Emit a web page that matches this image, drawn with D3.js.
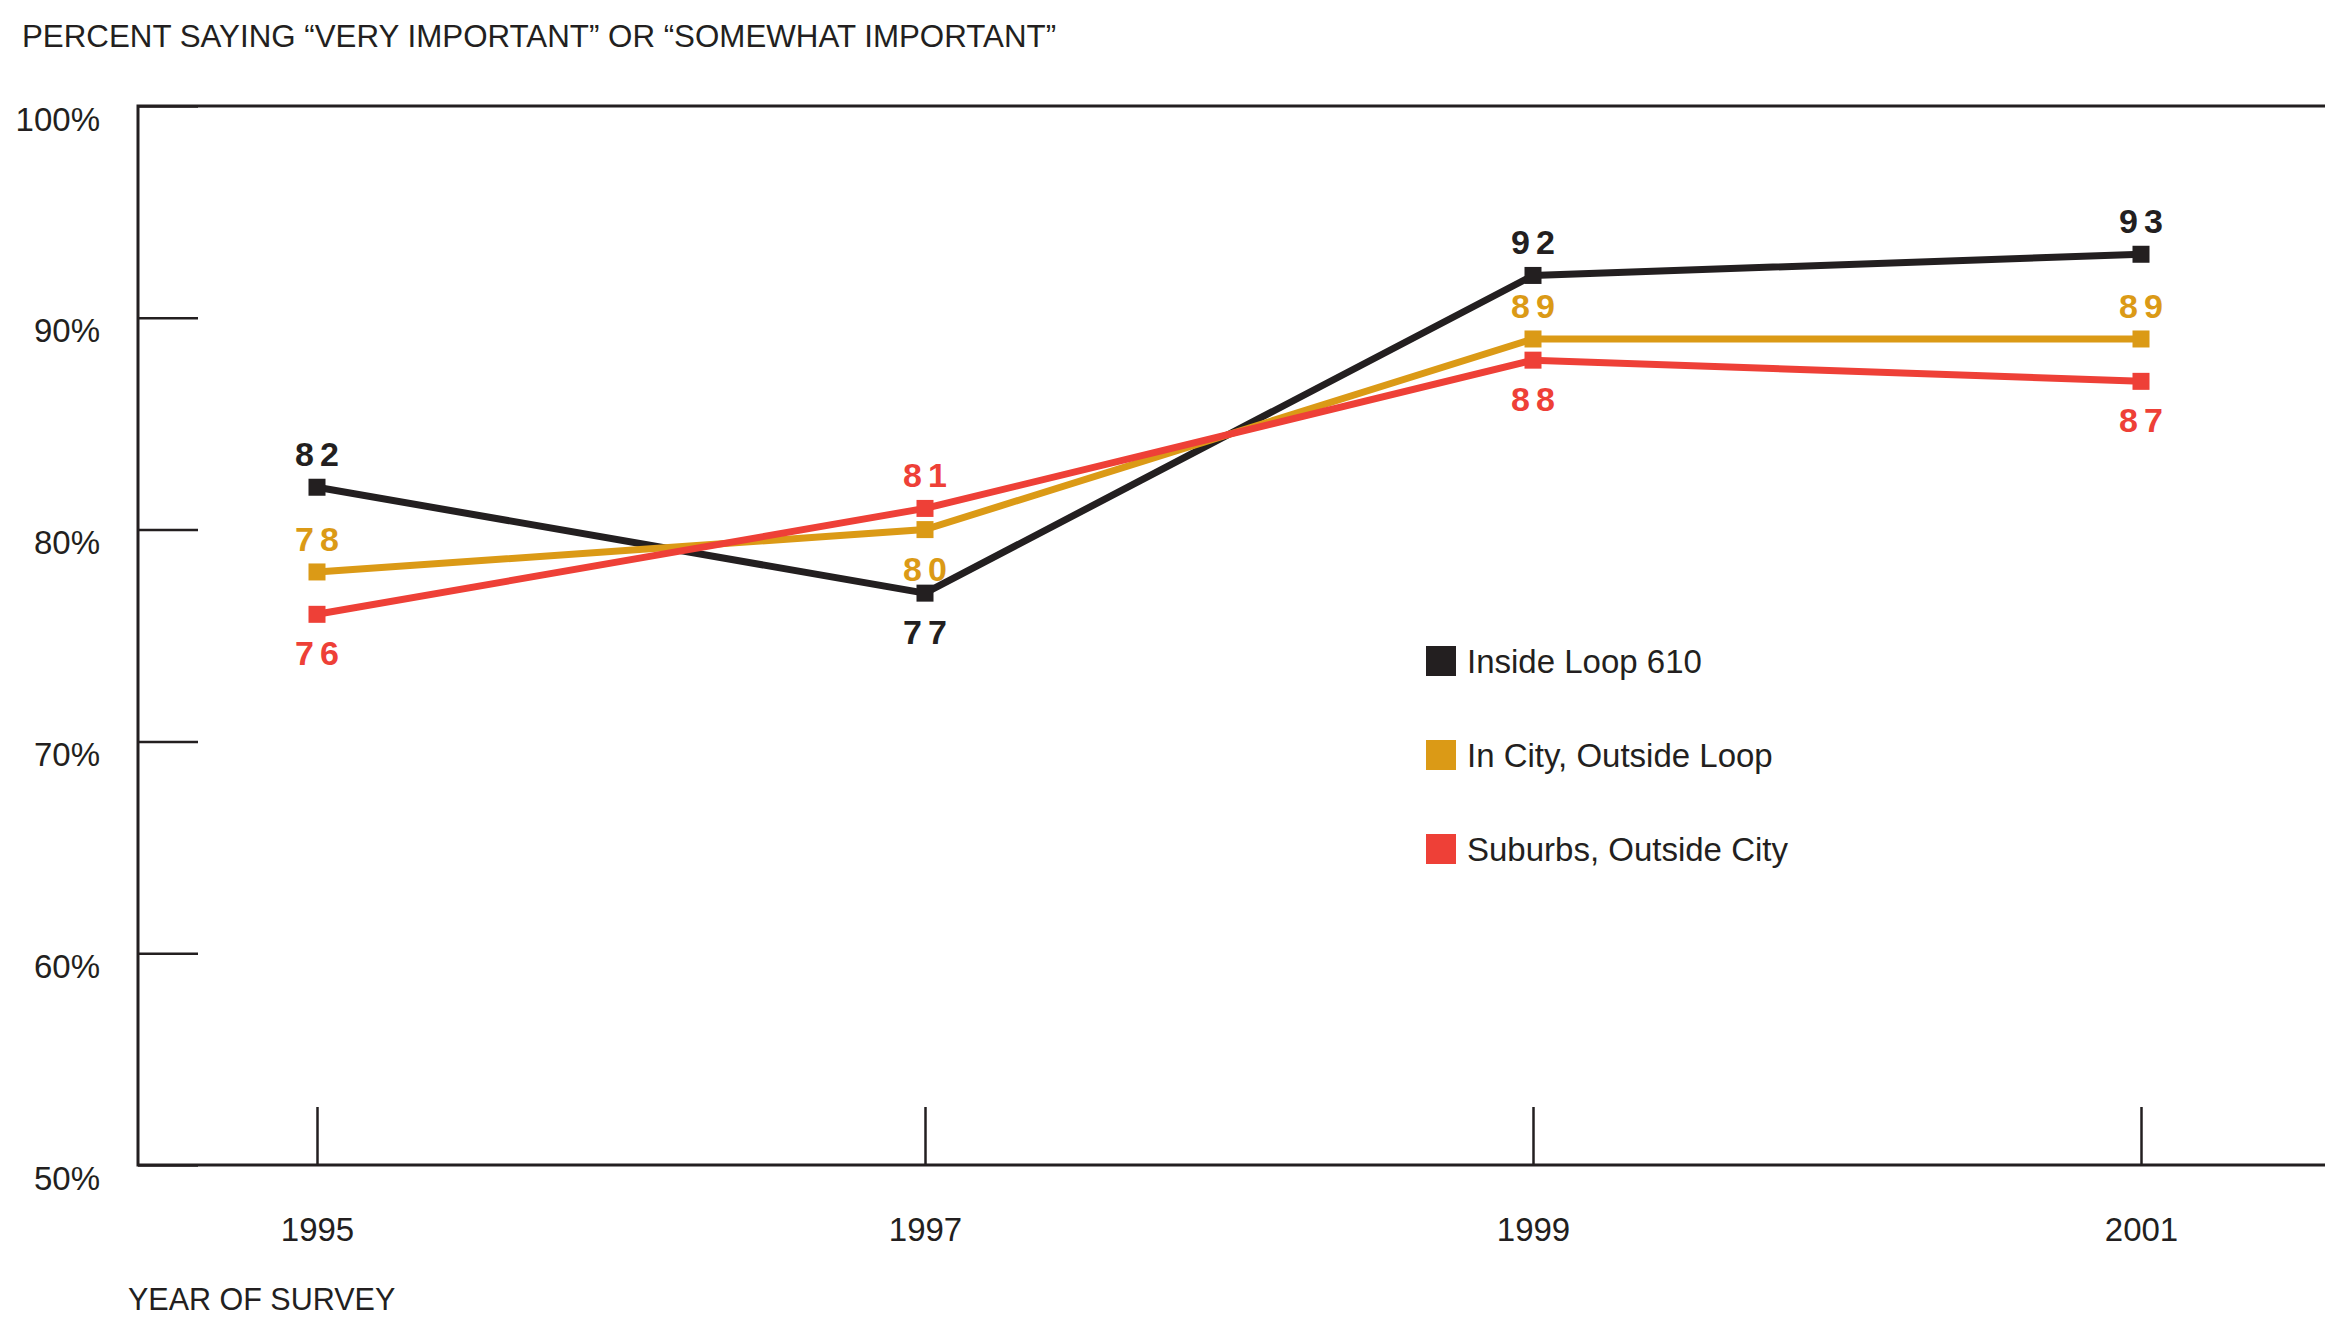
<!DOCTYPE html>
<html>
<head>
<meta charset="utf-8">
<script src="https://cdn.jsdelivr.net/npm/d3@7"></script>
<style>
  body { margin: 0; background: #fff; }
  svg { display: block; font-family: "Liberation Sans", Arial, sans-serif; }
  .frame { stroke: #231f20; stroke-width: 3; fill: none; }
  .axis path.domain { display: none; }
  .axis line { stroke: #231f20; stroke-width: 2.5; }
  .axis text { fill: #231f20; font-size: 33px; font-family: "Liberation Sans", Arial, sans-serif; }
  .series-line { fill: none; stroke-width: 7; stroke-linejoin: miter; }
  .value { font-size: 34px; font-weight: bold; letter-spacing: 6px; text-anchor: middle; }
  .legend text { font-size: 33px; fill: #231f20; }
</style>
</head>
<body>
<svg width="2325" height="1319"></svg>
<script>
// data
var years = [1995, 1997, 1999, 2001];
var seriesNames = ["Inside Loop 610", "In City, Outside Loop", "Suburbs, Outside City"];
var insideLoop = [82, 77, 92, 93];
var inCity = [78, 80, 89, 89];
var suburbs = [76, 81, 88, 87];
var yTicks = [50, 60, 70, 80, 90, 100];
var colors = ["#231f20", "#db9a16", "#ee4037"];

var svg = d3.select("svg"),
    width = +svg.attr("width"),
    height = +svg.attr("height");

var plotLeft = 138, plotTop = 106, plotBottom = 1165;

var x = d3.scaleLinear().domain([1995, 2001]).range([317, 2141]),
    y = d3.scaleLinear().domain([50, 100]).range([plotBottom, plotTop]);

var series = [insideLoop, inCity, suburbs].map(function(vals, i) {
  return {
    name: seriesNames[i],
    color: colors[i],
    values: vals.map(function(v, j) { return {year: years[j], value: v}; })
  };
});

// title
svg.append("text")
    .attr("x", 22)
    .attr("y", 47)
    .attr("font-size", 31.3)
    .attr("fill", "#231f20")
    .text("PERCENT SAYING \u201CVERY IMPORTANT\u201D OR \u201CSOMEWHAT IMPORTANT\u201D");

// y-axis (ticks point into the plot)
svg.append("g")
    .attr("class", "y axis")
    .attr("transform", "translate(" + plotLeft + ",0)")
    .call(d3.axisLeft(y).tickValues(yTicks).tickSizeInner(-60).tickSizeOuter(0)
      .tickPadding(38).tickFormat(function(d) { return d + "%"; }))
  .selectAll("text")
    .attr("dy", 24);

// x-axis (ticks point up)
svg.append("g")
    .attr("class", "x axis")
    .attr("transform", "translate(0," + plotBottom + ")")
    .call(d3.axisBottom(x).tickValues(years).tickSizeInner(-58).tickSizeOuter(0)
      .tickPadding(53).tickFormat(d3.format("d")));

// frame: left, top and bottom rules
svg.append("path")
    .attr("class", "frame")
    .attr("d", "M" + width + "," + plotTop + "H" + plotLeft + "V" + plotBottom + "H" + width);

svg.append("text")
    .attr("x", 128)
    .attr("y", 1310)
    .attr("font-size", 30.5)
    .attr("fill", "#231f20")
    .text("YEAR OF SURVEY");

var line = d3.line()
    .x(function(d) { return x(d.year); })
    .y(function(d) { return y(d.value); });

var group = svg.selectAll(".series")
    .data(series)
  .enter().append("g")
    .attr("class", "series");

group.append("path")
    .attr("class", "series-line")
    .attr("stroke", function(d) { return d.color; })
    .attr("d", function(d) { return line(d.values); });

group.selectAll("rect")
    .data(function(d) { return d.values.map(function(v) { return {v: v, color: d.color}; }); })
  .enter().append("rect")
    .attr("x", function(d) { return x(d.v.year) - 8.5; })
    .attr("y", function(d) { return y(d.v.value) - 8.5; })
    .attr("width", 17)
    .attr("height", 17)
    .attr("fill", function(d) { return d.color; });

// value labels: lowest series goes below, others above unless crowded
function below(si, j) {
  var vals = series.map(function(s) { return s.values[j].value; });
  var v = vals[si];
  if (v === d3.min(vals)) return true;
  if (v === d3.max(vals)) return false;
  var higher = d3.min(vals.filter(function(o) { return o > v; }));
  return higher - v < 2;
}

group.each(function(s, si) {
  d3.select(this).selectAll(".value")
      .data(s.values)
    .enter().append("text")
      .attr("class", "value")
      .attr("fill", s.color)
      .attr("x", function(d) { return x(d.year) + 3; })
      .attr("y", function(d, j) { return y(d.value) + (below(si, j) ? 51 : -21); })
      .text(function(d) { return d.value; });
});

// legend
var legend = svg.append("g")
    .attr("class", "legend")
    .attr("transform", "translate(1426,646)");

var item = legend.selectAll("g")
    .data(series)
  .enter().append("g")
    .attr("transform", function(d, i) { return "translate(0," + i * 94 + ")"; });

item.append("rect")
    .attr("width", 30)
    .attr("height", 30)
    .attr("fill", function(d) { return d.color; });

item.append("text")
    .attr("x", 41)
    .attr("y", 27)
    .text(function(d) { return d.name; });
</script>
</body>
</html>
